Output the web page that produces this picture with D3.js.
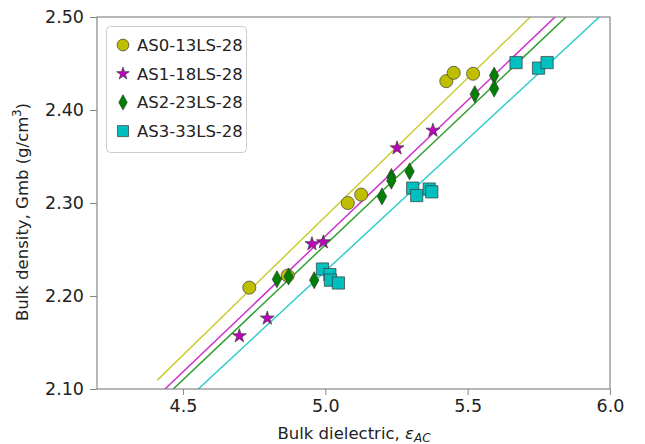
<!DOCTYPE html>
<html><head><meta charset="utf-8">
<script src="https://cdn.jsdelivr.net/npm/d3@7"></script>
<style>body{margin:0;background:#fff}svg{display:block}text{font-family:"DejaVu Sans",sans-serif}</style>
</head><body>
<svg id="c" width="645" height="444"></svg>
<script>
const seriesNames = ["AS0-13LS-28","AS1-18LS-28","AS2-23LS-28","AS3-33LS-28"];
const seriesColors = ["#bfbf00","#bf00bf","#008000","#00bfbf"];
const lineColors = ["#cccc33","#cc33cc","#33a033","#33cccc"];
const as0X = [4.733,4.868,5.079,5.126,5.425,5.451,5.519];
const as0Y = [2.209,2.222,2.300,2.309,2.431,2.440,2.439];
const as1X = [4.698,4.796,4.953,4.993,5.252,5.378];
const as1Y = [2.157,2.176,2.256,2.258,2.359,2.378];
const as2X = [4.830,4.871,4.961,5.232,5.232,5.296,5.199,5.525,5.593,5.593];
const as2Y = [2.218,2.221,2.217,2.328,2.324,2.334,2.307,2.417,2.437,2.423];
const as3X = [4.990,5.016,5.018,5.046,5.307,5.321,5.365,5.374,5.670,5.749,5.779];
const as3Y = [2.229,2.223,2.217,2.214,2.316,2.308,2.315,2.312,2.451,2.445,2.451];
const fitIntercept = [0.7954,0.8044,0.8049,0.8067];
const fitSlope = [0.298,0.292,0.290,0.284];
const fitRange = [4.41,6.0];
const xTicks = [4.5,5.0,5.5,6.0];
const yTicks = [2.10,2.20,2.30,2.40,2.50];
const xDomain = [4.198,6.0];
const yDomain = [2.10,2.50];

const svg = d3.select("#c");
const m = {l:97,r:610,t:17,b:389};
const x = d3.scaleLinear().domain(xDomain).range([m.l,m.r]);
const y = d3.scaleLinear().domain(yDomain).range([m.b,m.t]);

svg.append("defs").append("clipPath").attr("id","clip").append("rect")
  .attr("x",m.l).attr("y",m.t).attr("width",m.r-m.l).attr("height",m.b-m.t);

const plot = svg.append("g").attr("clip-path","url(#clip)");
fitSlope.forEach((b,i)=>{
  const a = fitIntercept[i];
  plot.append("line")
    .attr("x1",x(fitRange[0])).attr("y1",y(a+b*fitRange[0]))
    .attr("x2",x(fitRange[1])).attr("y2",y(a+b*fitRange[1]))
    .attr("stroke",lineColors[i]).attr("stroke-width",1.5);
});

const symTypes = [d3.symbolCircle,d3.symbolStar,null,d3.symbolSquare];
function diamond(s){
  const w = s*0.55;
  return `M0,${-s}L${w},0L0,${s}L${-w},0Z`;
}
function markerPath(i,scale){
  if(i===2) return diamond(8.5*scale);
  const sizes=[135,60,0,150];
  return d3.symbol().type(symTypes[i]).size(sizes[i]*scale*scale)();
}

const data = [[as0X,as0Y],[as1X,as1Y],[as2X,as2Y],[as3X,as3Y]];
const pg = svg.append("g");
data.forEach(([xs,ys],i)=>{
  xs.forEach((v,j)=>{
    pg.append("path").attr("d",markerPath(i,1))
      .attr("transform",`translate(${x(v)},${y(ys[j])})`)
      .attr("fill",seriesColors[i]).attr("stroke","#3a3a3a").attr("stroke-opacity",0.7).attr("stroke-width",1);
  });
});

const xa = svg.append("g").attr("transform",`translate(0,${m.b})`)
  .call(d3.axisBottom(x).tickValues(xTicks).tickFormat(d3.format(".1f")).tickSize(6).tickPadding(5));
const ya = svg.append("g").attr("transform",`translate(${m.l},0)`)
  .call(d3.axisLeft(y).tickValues(yTicks).tickFormat(d3.format(".2f")).tickSize(7).tickPadding(6));
[xa,ya].forEach(g=>{
  g.select(".domain").remove();
  g.selectAll("line").attr("stroke","#888");
  g.selectAll("text").attr("font-size",17.5).attr("fill","#222");
});
svg.append("rect").attr("x",m.l).attr("y",m.t).attr("width",m.r-m.l).attr("height",m.b-m.t)
  .attr("fill","none").attr("stroke","#888").attr("stroke-width",1.2);

svg.append("text").attr("x",354).attr("y",439).attr("text-anchor","middle").attr("font-size",16.5).attr("fill","#222")
  .html('Bulk dielectric, <tspan font-style="italic">ε</tspan><tspan font-style="italic" font-size="12" dy="3">AC</tspan>');
svg.append("text").attr("transform","translate(28,212) rotate(-90)").attr("text-anchor","middle").attr("font-size",16.5).attr("fill","#222")
  .html('Bulk density, Gmb (g/cm<tspan font-size="11.5" dy="-7">3</tspan><tspan dy="7">)</tspan>');

const lg = svg.append("g");
lg.append("rect").attr("x",106.5).attr("y",26.5).attr("width",140).attr("height",126).attr("rx",4)
  .attr("fill","#fff").attr("fill-opacity",0.8).attr("stroke","#ccc");
seriesNames.forEach((n,i)=>{
  const yy = 45 + i*28.7;
  lg.append("path").attr("d",markerPath(i,0.9)).attr("transform",`translate(123,${yy})`)
    .attr("fill",seriesColors[i]).attr("stroke","#3a3a3a").attr("stroke-opacity",0.7);
  lg.append("text").attr("x",137).attr("y",yy+6).attr("font-size",16.5).attr("fill","#222").text(n);
});
</script>
</body></html>
